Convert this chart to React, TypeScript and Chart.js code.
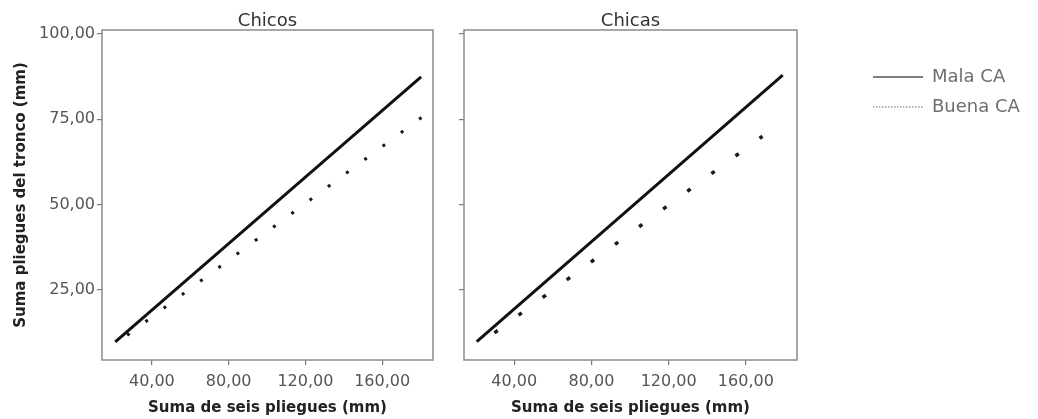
import React, { useEffect, useRef } from 'react';
import { Chart, registerables } from 'chart.js';

Chart.register(...registerables);

// ---- data ----
const xTicks = [40, 80, 120, 160];
const yTicks = [25, 50, 75, 100];
const seriesNames = ['Mala CA', 'Buena CA'];
const panelTitles = ['Chicos', 'Chicas'];

const chicosMalaX = [20.9, 180.3];
const chicosMalaY = [9.8, 87.4];
const chicosBuenaX = [21.0, 180.5];
const chicosBuenaY = [9.2, 75.5];

const chicasMalaX = [20.6, 179.1];
const chicasMalaY = [9.9, 87.9];
const chicasBuenaX = [21.0, 168.6];
const chicasBuenaY = [8.8, 70.0];

const xRange = [14, 186.5];
const yRange = [4.5, 101.1];

const FONT = 'DejaVu Sans';
const fmt = (v: number) => Number(v).toFixed(2).replace('.', ',');
const pts = (xs: number[], ys: number[]) => xs.map((x, i) => ({ x, y: ys[i] }));

const framePlugin = {
  id: 'frame',
  beforeDatasetsDraw(chart: any) {
    const { ctx, chartArea: a } = chart;
    ctx.save();
    ctx.strokeStyle = '#8a8a8a';
    ctx.lineWidth = 1.5;
    ctx.strokeRect(a.left, a.top, a.right - a.left, a.bottom - a.top);
    ctx.restore();
  },
};

function makeConfig(side: 'left' | 'right'): any {
  const isLeft = side === 'left';
  const malaX = isLeft ? chicosMalaX : chicasMalaX;
  const malaY = isLeft ? chicosMalaY : chicasMalaY;
  const buenaX = isLeft ? chicosBuenaX : chicasBuenaX;
  const buenaY = isLeft ? chicosBuenaY : chicasBuenaY;

  const scales: any = {
    x: {
      type: 'linear',
      position: 'bottom',
      min: xRange[0],
      max: xRange[1],
      afterBuildTicks: (s: any) => {
        s.ticks = xTicks.map((v) => ({ value: v }));
      },
      afterFit: (s: any) => {
        s.height = 59;
      },
      ticks: {
        font: { family: FONT, size: 16 },
        color: '#555',
        padding: 7,
        maxRotation: 0,
        callback: (v: any) => fmt(v),
      },
      grid: { drawOnChartArea: false, drawTicks: true, tickLength: 5, color: '#777', lineWidth: 1.2 },
      border: { display: false },
      title: {
        display: true,
        text: 'Suma de seis pliegues (mm)',
        font: { family: FONT, size: 15, weight: 'bold' },
        color: '#222',
        padding: { top: 0, bottom: 2 },
      },
    },
    y: {
      type: 'linear',
      position: 'left',
      min: yRange[0],
      max: yRange[1],
      afterBuildTicks: (s: any) => {
        s.ticks = yTicks.map((v) => ({ value: v }));
      },
      afterFit: (s: any) => {
        s.width = isLeft ? 102 : 24;
      },
      ticks: {
        display: isLeft,
        font: { family: FONT, size: 16 },
        color: '#555',
        padding: 2,
        callback: (v: any) => fmt(v),
      },
      grid: { drawOnChartArea: false, drawTicks: true, tickLength: 5, color: '#777', lineWidth: 1.2 },
      border: { display: false },
      title: {
        display: isLeft,
        text: 'Suma pliegues del tronco (mm)',
        font: { family: FONT, size: 15, weight: 'bold' },
        color: '#222',
        padding: { top: 12, bottom: 0 },
      },
    },
  };

  if (!isLeft) {
    scales.gap = {
      type: 'linear',
      axis: 'y',
      position: 'right',
      display: true,
      ticks: { display: false },
      grid: { display: false },
      border: { display: false },
      afterFit: (s: any) => {
        s.width = 64;
      },
    };
  }

  return {
    type: 'scatter',
    data: {
      datasets: [
        {
          label: seriesNames[0],
          data: pts(malaX, malaY),
          showLine: true,
          borderColor: '#111',
          backgroundColor: '#111',
          borderWidth: 3,
          pointRadius: 0,
          fill: false,
        },
        {
          label: seriesNames[1],
          data: pts(buenaX, buenaY),
          showLine: true,
          borderColor: '#1a1a1a',
          backgroundColor: '#1a1a1a',
          borderWidth: isLeft ? 3 : 3.5,
          borderDash: isLeft ? [3, 19.7] : [4, 25.9],
          borderDashOffset: isLeft ? 8.1 : 8.9,
          borderCapStyle: 'butt',
          pointRadius: 0,
          fill: false,
        },
      ],
    },
    options: {
      responsive: false,
      animation: false,
      events: [],
      layout: { padding: { left: 0, right: 17, top: 0, bottom: 0 } },
      scales,
      plugins: {
        tooltip: { enabled: false },
        title: {
          display: true,
          text: isLeft ? panelTitles[0] : panelTitles[1],
          fullSize: false,
          font: { family: FONT, size: 18, weight: 'normal', lineHeight: 1 },
          color: '#333',
          padding: { top: 12, bottom: 0 },
        },
        legend: isLeft
          ? { display: false }
          : {
              display: true,
              position: 'right',
              align: 'start',
              maxWidth: 160,
              title: {
                display: true,
                text: ' ',
                font: { family: FONT, size: 10, lineHeight: 1 },
                padding: { top: 0, bottom: 46 },
              },
              labels: {
                usePointStyle: true,
                pointStyleWidth: 50,
                padding: 12,
                color: '#6e6e6e',
                font: { family: FONT, size: 18 },
                generateLabels: () => [
                  {
                    text: seriesNames[0],
                    datasetIndex: 0,
                    hidden: false,
                    pointStyle: 'line',
                    strokeStyle: '#555',
                    fillStyle: 'rgba(0,0,0,0)',
                    lineWidth: 1.5,
                    lineDash: [],
                    lineCap: 'butt',
                    fontColor: '#6e6e6e',
                  },
                  {
                    text: seriesNames[1],
                    datasetIndex: 1,
                    hidden: false,
                    pointStyle: 'line',
                    strokeStyle: '#9a9a9a',
                    fillStyle: 'rgba(0,0,0,0)',
                    lineWidth: 1.5,
                    lineDash: [1.5, 1.5],
                    lineCap: 'butt',
                    fontColor: '#6e6e6e',
                  },
                ],
              },
            },
      },
    },
    plugins: [framePlugin],
  };
}

export default function App() {
  const leftRef = useRef<HTMLCanvasElement | null>(null);
  const rightRef = useRef<HTMLCanvasElement | null>(null);

  useEffect(() => {
    const charts: Chart[] = [];
    if (leftRef.current) charts.push(new Chart(leftRef.current, makeConfig('left')));
    if (rightRef.current) charts.push(new Chart(rightRef.current, makeConfig('right')));
    return () => charts.forEach((c) => c.destroy());
  }, []);

  return (
    <div style={{ position: 'fixed', left: 0, top: 0, width: 1038, height: 419, background: '#fff' }}>
      <canvas ref={leftRef} width={450} height={419} style={{ position: 'absolute', left: 0, top: 0 }} />
      <canvas ref={rightRef} width={598} height={419} style={{ position: 'absolute', left: 440, top: 0 }} />
    </div>
  );
}
